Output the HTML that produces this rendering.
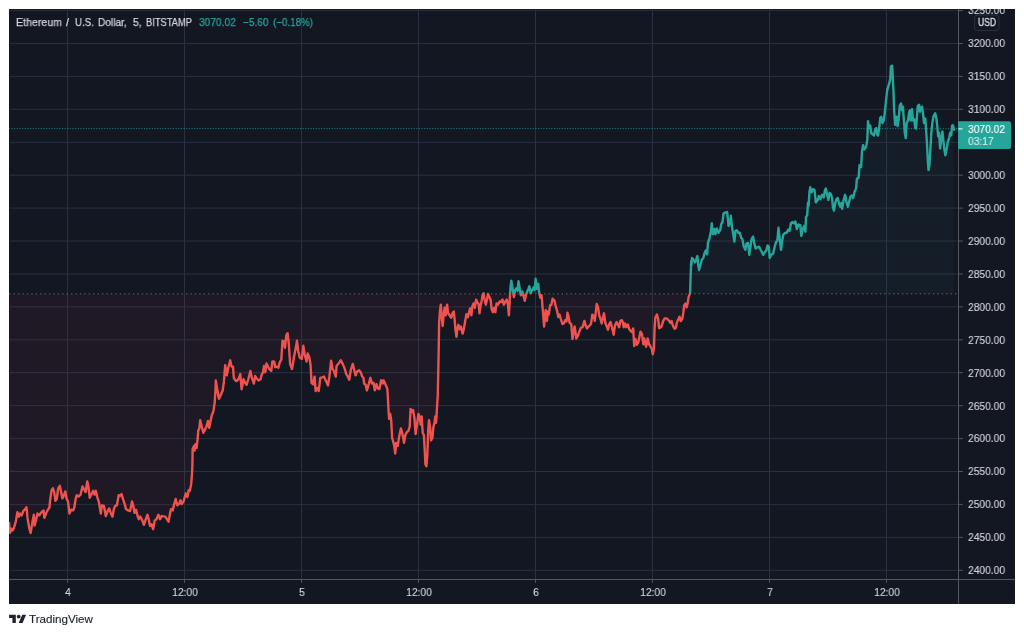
<!DOCTYPE html><html><head><meta charset="utf-8"><title>chart</title><style>
html,body{margin:0;padding:0;background:#fff}
body{width:1024px;height:635px;position:relative;overflow:hidden;font-family:"Liberation Sans",sans-serif}
.t{position:absolute;white-space:nowrap;line-height:1;color:#d1d4dc;font-size:11.5px;will-change:transform;-webkit-text-stroke:0.15px currentColor}
.pl{left:967.8px;transform-origin:0 50%;transform:scaleX(0.89)}
.tl{transform:translateX(-50%) scaleX(0.89)}

</style></head><body>
<svg width="1024" height="635" viewBox="0 0 1024 635" style="position:absolute;left:0;top:0">
<defs><clipPath id="up"><rect x="9" y="9" width="949.5" height="285.0"/></clipPath><clipPath id="dn"><rect x="9" y="294.0" width="949.5" height="285.5"/></clipPath></defs>
<rect x="9" y="9" width="1006" height="595" fill="#131722"/>
<path d="M67.5 9 V579.5 M184.5 9 V579.5 M301.5 9 V579.5 M418.5 9 V579.5 M535.5 9 V579.5 M652.5 9 V579.5 M769.5 9 V579.5 M886.5 9 V579.5 M9 10.6 H958.5 M9 43.5 H958.5 M9 76.4 H958.5 M9 109.3 H958.5 M9 142.3 H958.5 M9 175.2 H958.5 M9 208.1 H958.5 M9 241.0 H958.5 M9 274.0 H958.5 M9 306.9 H958.5 M9 339.8 H958.5 M9 372.7 H958.5 M9 405.7 H958.5 M9 438.6 H958.5 M9 471.5 H958.5 M9 504.4 H958.5 M9 537.4 H958.5 M9 570.3 H958.5" stroke="#2b3041" stroke-width="1" fill="none"/>
<path d="M9.1 523.0 L10.1 533.0 L11.3 528.6 L12.6 530.5 L13.9 528.0 L15.8 521.7 L17.4 512.2 L18.9 516.6 L20.2 513.5 L21.7 515.4 L23.3 511.0 L25.2 509.1 L26.5 507.2 L27.5 517.9 L29.2 528.0 L30.6 533.0 L32.1 524.2 L33.8 514.8 L34.6 525.5 L35.9 520.4 L37.5 513.5 L39.3 515.4 L40.9 512.9 L43.5 510.4 L44.4 517.9 L46.0 513.5 L47.9 509.7 L49.4 507.8 L50.1 500.3 L51.6 490.2 L52.9 488.3 L54.2 492.1 L55.4 500.9 L56.7 499.0 L58.2 488.3 L59.8 485.8 L61.1 492.1 L62.4 498.4 L64.0 495.2 L65.3 491.5 L66.5 498.4 L68.0 501.5 L69.5 513.5 L71.2 509.7 L73.1 510.4 L74.3 507.8 L75.6 499.0 L76.8 495.2 L78.7 496.5 L80.6 494.6 L82.5 486.4 L84.2 489.6 L85.7 492.1 L87.2 481.4 L88.2 485.2 L89.7 497.8 L91.3 494.6 L93.2 490.8 L94.5 494.6 L95.8 490.8 L97.3 497.1 L98.9 502.2 L100.8 513.5 L102.0 505.3 L103.9 505.9 L105.8 516.0 L107.7 511.0 L109.3 508.5 L110.9 513.5 L112.5 516.6 L114.0 508.5 L115.3 505.9 L116.9 505.3 L118.7 495.2 L120.3 495.9 L121.6 494.0 L123.2 499.6 L124.7 504.1 L126.0 509.1 L128.0 510.4 L130.1 511.0 L132.0 501.5 L133.2 505.3 L134.5 512.9 L136.1 509.7 L137.6 516.0 L138.7 519.2 L140.2 516.6 L142.1 519.8 L143.9 524.8 L145.8 519.2 L147.5 514.8 L148.7 519.2 L150.0 526.1 L151.5 524.2 L153.1 529.2 L154.7 520.4 L156.5 519.2 L158.4 514.8 L160.1 519.2 L161.6 516.0 L163.5 516.4 L165.3 516.6 L166.9 519.2 L168.5 521.7 L169.8 514.8 L171.0 509.1 L172.7 510.4 L174.2 504.1 L175.7 499.0 L177.3 505.3 L179.0 504.1 L180.5 500.3 L181.7 504.1 L183.6 501.5 L184.9 496.5 L185.8 493.4 L187.4 497.1 L188.7 490.2 L189.9 490.8 L191.2 483.9 L192.1 472.6 L192.4 465.0 L192.6 449.2 L193.9 446.1 L194.5 450.5 L195.4 444.2 L196.6 447.9 L197.6 439.1 L198.3 430.3 L199.2 429.1 L200.2 420.2 L201.4 425.3 L203.3 432.8 L205.2 429.1 L206.5 426.5 L208.0 420.9 L209.2 427.8 L210.5 421.5 L211.8 415.2 L213.4 411.4 L214.7 402.6 L215.5 390.0 L215.8 380.4 L217.0 388.0 L218.9 398.7 L220.8 394.9 L222.7 390.5 L223.9 381.7 L225.2 365.3 L226.7 375.4 L228.3 367.8 L230.2 360.3 L231.5 366.6 L233.0 366.6 L233.8 377.9 L235.3 380.4 L236.8 381.1 L238.4 379.2 L240.3 374.1 L241.6 389.2 L243.5 379.2 L245.1 382.9 L246.6 384.8 L248.5 378.5 L250.4 371.0 L251.9 377.9 L253.9 383.6 L255.2 376.0 L256.7 378.5 L258.6 380.4 L260.5 379.2 L261.7 374.8 L263.0 372.2 L264.0 365.9 L265.3 372.2 L266.5 363.4 L268.0 366.6 L269.3 369.1 L271.2 371.0 L272.4 361.5 L274.1 361.5 L275.3 367.2 L277.1 366.6 L278.4 367.8 L279.6 362.8 L281.3 359.6 L282.5 340.8 L283.8 341.4 L285.0 347.7 L286.3 335.1 L287.6 333.2 L288.8 343.9 L290.1 364.1 L292.0 369.1 L293.9 357.8 L295.8 347.7 L297.0 340.8 L298.3 351.5 L299.8 357.8 L301.8 359.0 L303.3 345.8 L304.6 354.0 L306.5 361.5 L307.7 353.4 L309.4 357.8 L310.6 365.3 L311.5 382.9 L313.1 384.2 L314.6 376.6 L315.6 391.1 L317.2 388.0 L318.7 391.1 L320.3 377.9 L322.2 377.3 L324.1 376.6 L326.0 381.1 L328.0 385.5 L329.4 376.5 L331.1 360.8 L332.6 369.0 L334.1 371.5 L335.8 376.5 L336.6 365.8 L338.9 363.3 L340.8 360.2 L342.7 363.9 L344.6 368.4 L346.2 374.0 L347.7 376.5 L349.2 379.7 L350.9 369.6 L352.8 363.9 L354.3 370.2 L355.5 375.3 L357.2 371.5 L359.1 370.2 L360.9 372.8 L362.2 376.5 L363.5 377.8 L364.1 383.5 L365.6 384.7 L366.9 390.4 L368.9 383.5 L370.4 377.8 L371.9 383.5 L373.5 382.8 L374.8 390.4 L376.4 384.1 L377.9 388.5 L379.5 389.1 L381.1 380.3 L382.7 383.5 L383.6 380.3 L385.3 384.1 L387.4 389.1 L388.0 400.5 L388.7 413.1 L389.1 418.9 L390.2 413.9 L391.2 420.2 L392.1 437.8 L393.3 441.6 L394.2 445.4 L395.2 453.6 L396.2 442.9 L397.7 446.0 L399.2 436.6 L400.9 428.4 L402.5 434.1 L404.0 442.9 L405.3 435.3 L406.8 432.2 L408.4 430.9 L409.7 426.5 L410.6 408.9 L411.8 412.0 L413.1 410.1 L414.4 417.7 L415.6 434.1 L416.9 425.2 L418.5 413.9 L419.8 417.7 L420.6 424.6 L421.6 416.4 L422.7 432.8 L423.9 435.3 L424.8 451.7 L425.4 464.3 L426.4 466.2 L427.3 455.5 L428.2 430.3 L429.0 420.2 L430.2 427.8 L431.1 440.4 L432.4 437.8 L433.4 427.1 L434.5 422.7 L435.3 416.4 L436.1 422.7 L437.0 407.6 L437.8 395.0 L438.6 355.0 L438.9 338.0 L439.1 322.9 L439.9 311.5 L440.8 304.6 L441.7 316.6 L442.7 326.0 L443.7 314.1 L444.6 307.8 L445.8 315.3 L447.1 304.6 L448.0 312.8 L449.6 315.3 L451.2 317.8 L452.5 313.4 L453.8 311.5 L454.6 319.1 L455.5 330.4 L456.5 336.7 L457.5 327.9 L458.4 324.8 L459.7 329.2 L460.9 326.6 L462.6 333.6 L463.8 329.2 L465.1 321.6 L466.4 314.1 L467.9 317.2 L468.9 312.8 L470.1 308.4 L471.4 315.3 L472.3 306.5 L473.5 303.4 L474.8 307.8 L476.1 299.6 L477.3 302.1 L478.6 304.0 L479.5 313.4 L480.7 305.2 L481.7 300.8 L482.7 294.5 L483.6 293.3 L484.5 298.9 L485.8 304.6 L487.0 299.6 L488.0 293.9 L489.3 297.1 L490.6 299.6 L491.6 309.0 L492.8 312.2 L494.1 307.8 L495.3 312.2 L496.6 303.4 L498.1 304.6 L499.6 301.5 L501.3 302.1 L502.5 299.6 L503.8 304.6 L505.4 301.5 L506.7 299.6 L507.9 304.0 L508.9 315.3 L509.7 300.2 L510.5 287.6 L511.3 280.7 L512.6 288.9 L513.9 297.1 L515.1 290.1 L516.4 288.2 L517.6 290.8 L518.5 281.3 L519.8 288.9 L520.8 295.2 L522.3 291.4 L523.6 295.8 L524.8 300.8 L525.8 295.2 L527.1 292.0 L528.4 288.9 L529.4 286.3 L530.6 293.3 L532.1 290.1 L533.4 287.6 L534.6 290.1 L535.6 278.8 L536.9 288.9 L538.2 283.8 L539.1 292.6 L540.3 297.7 L541.6 295.2 L542.5 306.5 L543.5 319.1 L544.1 326.6 L544.8 319.0 L545.7 310.2 L546.9 320.9 L547.8 311.4 L548.8 314.6 L550.1 305.1 L551.3 305.1 L552.6 298.8 L554.5 300.7 L555.8 306.4 L557.0 310.8 L558.3 317.1 L559.5 314.6 L560.8 319.0 L562.4 324.0 L563.9 323.4 L565.2 320.2 L566.5 321.5 L567.5 312.7 L568.7 317.1 L569.6 322.8 L571.2 324.0 L572.5 339.1 L573.4 332.8 L574.6 326.5 L576.3 338.5 L577.8 336.0 L579.3 331.6 L580.9 327.8 L582.6 327.2 L584.4 320.9 L585.6 325.3 L586.9 328.4 L588.5 326.5 L589.8 325.3 L591.0 324.0 L592.3 314.6 L593.5 315.8 L594.8 320.9 L595.7 312.7 L596.7 303.9 L598.0 307.0 L599.2 315.2 L600.5 319.0 L601.7 323.4 L603.0 317.1 L604.0 313.3 L605.3 322.8 L606.5 325.9 L608.0 329.7 L609.3 324.0 L610.5 322.1 L612.1 327.8 L613.7 334.7 L615.0 325.3 L616.6 322.1 L617.9 324.6 L619.1 327.2 L620.4 320.9 L621.9 320.2 L622.9 322.8 L623.8 327.2 L625.0 323.4 L626.3 327.2 L627.9 324.6 L629.2 329.1 L630.7 330.9 L632.0 332.2 L633.2 328.4 L634.2 346.1 L635.5 339.1 L636.8 344.8 L638.3 342.3 L639.5 336.6 L640.5 331.6 L642.0 334.1 L643.3 344.2 L644.3 338.5 L646.1 346.7 L647.7 338.5 L649.0 344.2 L650.6 346.7 L651.9 349.2 L652.8 354.2 L654.0 347.9 L654.6 327.8 L655.3 317.7 L656.9 314.6 L658.2 319.0 L659.1 328.4 L660.7 327.2 L662.0 325.3 L663.2 320.9 L664.7 318.4 L666.6 318.4 L668.0 319.6 L668.8 320.5 L670.3 323.0 L671.6 321.1 L672.9 325.6 L674.5 328.7 L675.8 328.1 L676.6 323.7 L678.3 319.2 L679.5 316.7 L680.8 321.1 L682.4 318.6 L683.3 312.9 L684.2 305.4 L685.5 303.5 L686.7 307.3 L687.7 302.9 L688.7 296.6 L690.0 293.4 L690.5 280.2 L691.2 261.3 L691.3 265.6 L692.0 258.0 L693.2 259.2 L694.9 262.4 L696.1 259.9 L697.4 256.1 L698.3 265.6 L699.1 270.0 L700.4 265.6 L701.7 259.9 L703.3 258.0 L704.6 252.9 L705.8 250.4 L707.1 254.2 L708.0 242.9 L709.6 237.8 L710.9 231.5 L711.8 223.3 L713.0 234.1 L714.3 229.0 L715.5 234.1 L716.8 228.4 L718.4 232.8 L720.1 230.3 L721.3 224.0 L722.6 221.5 L723.5 213.3 L725.1 212.6 L727.2 212.0 L728.5 225.9 L729.8 223.3 L730.8 215.8 L731.9 226.5 L733.2 234.1 L734.4 241.6 L735.4 230.9 L736.9 230.3 L738.2 232.8 L739.8 232.8 L741.1 237.8 L742.4 239.1 L743.6 246.0 L745.3 249.8 L746.5 243.5 L748.0 242.9 L749.3 254.8 L750.5 246.7 L751.6 239.1 L753.1 236.6 L754.3 242.9 L755.6 248.5 L757.5 247.3 L759.1 246.7 L760.6 249.8 L761.9 252.3 L763.1 254.8 L764.7 252.3 L766.3 250.4 L767.6 245.4 L768.8 246.7 L769.7 258.0 L771.3 254.8 L773.2 253.6 L774.7 246.7 L776.0 242.2 L777.3 241.0 L778.5 227.8 L779.8 239.1 L781.0 249.8 L782.3 240.3 L783.3 234.7 L785.2 232.8 L786.8 232.8 L788.1 229.7 L789.6 230.9 L790.9 223.3 L792.4 222.1 L794.0 223.3 L795.3 221.5 L796.9 229.0 L798.4 224.6 L800.3 225.2 L801.3 235.9 L802.8 229.0 L804.1 225.9 L805.4 231.5 L806.0 217.1 L807.2 215.2 L808.0 202.6 L808.6 205.6 L809.5 191.7 L810.3 187.3 L811.6 192.3 L812.9 189.2 L814.5 189.8 L815.8 202.4 L817.4 200.5 L818.9 196.1 L820.4 199.2 L822.0 194.8 L823.7 197.4 L824.9 190.4 L825.8 188.5 L827.1 194.2 L828.4 199.9 L829.6 192.9 L830.9 194.2 L832.1 198.0 L833.0 208.1 L834.0 210.6 L835.3 203.0 L836.5 199.2 L837.8 198.0 L839.1 203.7 L840.3 206.8 L841.3 203.0 L842.2 208.7 L843.5 200.5 L845.1 194.8 L846.4 201.8 L847.9 206.8 L849.1 201.8 L850.4 196.7 L851.6 195.5 L853.2 198.0 L854.4 192.3 L856.1 188.5 L856.9 178.5 L858.6 177.8 L859.5 165.2 L861.1 167.1 L862.0 151.4 L863.0 145.1 L864.2 149.5 L866.1 147.0 L867.4 138.8 L868.0 121.1 L869.1 128.0 L870.2 125.5 L871.2 133.1 L872.7 134.3 L873.9 135.6 L874.9 130.6 L876.2 128.0 L877.1 134.3 L878.0 135.6 L879.2 128.0 L880.2 118.0 L881.2 116.7 L882.5 123.0 L883.8 120.5 L884.6 114.2 L885.9 101.6 L887.2 90.2 L889.1 83.9 L890.3 78.9 L890.9 66.3 L892.2 65.7 L892.8 77.6 L893.5 91.5 L894.1 109.1 L895.1 124.9 L896.4 116.7 L897.6 126.1 L898.5 120.5 L899.8 105.3 L901.0 103.5 L901.9 110.4 L902.9 106.6 L903.9 120.5 L904.8 133.1 L905.7 138.1 L906.7 123.0 L908.0 120.5 L909.0 112.9 L909.8 110.4 L910.7 120.5 L912.0 109.1 L913.0 120.5 L914.2 119.2 L915.3 128.0 L916.1 128.7 L917.0 115.4 L917.8 106.0 L919.0 104.7 L919.9 111.7 L920.8 107.9 L922.1 106.6 L923.1 114.2 L924.1 123.0 L925.3 118.6 L926.2 130.6 L926.2 131.5 L926.9 141.6 L927.8 160.5 L928.5 169.9 L929.4 165.5 L930.3 150.4 L931.3 132.8 L932.3 123.3 L933.5 116.4 L935.1 113.2 L936.3 117.6 L937.3 126.5 L938.2 136.5 L939.1 132.8 L940.1 148.5 L941.1 140.3 L942.4 131.5 L943.6 142.8 L944.5 150.4 L945.4 155.4 L946.6 149.1 L947.9 141.6 L949.2 137.8 L950.2 132.8 L951.2 135.3 L952.1 125.8 L952.9 125.2 L954.0 129.6 L954.0 294.0 L9.1 294.0 Z" fill="#26a69a" fill-opacity="0.05" clip-path="url(#up)"/>
<path d="M9.1 523.0 L10.1 533.0 L11.3 528.6 L12.6 530.5 L13.9 528.0 L15.8 521.7 L17.4 512.2 L18.9 516.6 L20.2 513.5 L21.7 515.4 L23.3 511.0 L25.2 509.1 L26.5 507.2 L27.5 517.9 L29.2 528.0 L30.6 533.0 L32.1 524.2 L33.8 514.8 L34.6 525.5 L35.9 520.4 L37.5 513.5 L39.3 515.4 L40.9 512.9 L43.5 510.4 L44.4 517.9 L46.0 513.5 L47.9 509.7 L49.4 507.8 L50.1 500.3 L51.6 490.2 L52.9 488.3 L54.2 492.1 L55.4 500.9 L56.7 499.0 L58.2 488.3 L59.8 485.8 L61.1 492.1 L62.4 498.4 L64.0 495.2 L65.3 491.5 L66.5 498.4 L68.0 501.5 L69.5 513.5 L71.2 509.7 L73.1 510.4 L74.3 507.8 L75.6 499.0 L76.8 495.2 L78.7 496.5 L80.6 494.6 L82.5 486.4 L84.2 489.6 L85.7 492.1 L87.2 481.4 L88.2 485.2 L89.7 497.8 L91.3 494.6 L93.2 490.8 L94.5 494.6 L95.8 490.8 L97.3 497.1 L98.9 502.2 L100.8 513.5 L102.0 505.3 L103.9 505.9 L105.8 516.0 L107.7 511.0 L109.3 508.5 L110.9 513.5 L112.5 516.6 L114.0 508.5 L115.3 505.9 L116.9 505.3 L118.7 495.2 L120.3 495.9 L121.6 494.0 L123.2 499.6 L124.7 504.1 L126.0 509.1 L128.0 510.4 L130.1 511.0 L132.0 501.5 L133.2 505.3 L134.5 512.9 L136.1 509.7 L137.6 516.0 L138.7 519.2 L140.2 516.6 L142.1 519.8 L143.9 524.8 L145.8 519.2 L147.5 514.8 L148.7 519.2 L150.0 526.1 L151.5 524.2 L153.1 529.2 L154.7 520.4 L156.5 519.2 L158.4 514.8 L160.1 519.2 L161.6 516.0 L163.5 516.4 L165.3 516.6 L166.9 519.2 L168.5 521.7 L169.8 514.8 L171.0 509.1 L172.7 510.4 L174.2 504.1 L175.7 499.0 L177.3 505.3 L179.0 504.1 L180.5 500.3 L181.7 504.1 L183.6 501.5 L184.9 496.5 L185.8 493.4 L187.4 497.1 L188.7 490.2 L189.9 490.8 L191.2 483.9 L192.1 472.6 L192.4 465.0 L192.6 449.2 L193.9 446.1 L194.5 450.5 L195.4 444.2 L196.6 447.9 L197.6 439.1 L198.3 430.3 L199.2 429.1 L200.2 420.2 L201.4 425.3 L203.3 432.8 L205.2 429.1 L206.5 426.5 L208.0 420.9 L209.2 427.8 L210.5 421.5 L211.8 415.2 L213.4 411.4 L214.7 402.6 L215.5 390.0 L215.8 380.4 L217.0 388.0 L218.9 398.7 L220.8 394.9 L222.7 390.5 L223.9 381.7 L225.2 365.3 L226.7 375.4 L228.3 367.8 L230.2 360.3 L231.5 366.6 L233.0 366.6 L233.8 377.9 L235.3 380.4 L236.8 381.1 L238.4 379.2 L240.3 374.1 L241.6 389.2 L243.5 379.2 L245.1 382.9 L246.6 384.8 L248.5 378.5 L250.4 371.0 L251.9 377.9 L253.9 383.6 L255.2 376.0 L256.7 378.5 L258.6 380.4 L260.5 379.2 L261.7 374.8 L263.0 372.2 L264.0 365.9 L265.3 372.2 L266.5 363.4 L268.0 366.6 L269.3 369.1 L271.2 371.0 L272.4 361.5 L274.1 361.5 L275.3 367.2 L277.1 366.6 L278.4 367.8 L279.6 362.8 L281.3 359.6 L282.5 340.8 L283.8 341.4 L285.0 347.7 L286.3 335.1 L287.6 333.2 L288.8 343.9 L290.1 364.1 L292.0 369.1 L293.9 357.8 L295.8 347.7 L297.0 340.8 L298.3 351.5 L299.8 357.8 L301.8 359.0 L303.3 345.8 L304.6 354.0 L306.5 361.5 L307.7 353.4 L309.4 357.8 L310.6 365.3 L311.5 382.9 L313.1 384.2 L314.6 376.6 L315.6 391.1 L317.2 388.0 L318.7 391.1 L320.3 377.9 L322.2 377.3 L324.1 376.6 L326.0 381.1 L328.0 385.5 L329.4 376.5 L331.1 360.8 L332.6 369.0 L334.1 371.5 L335.8 376.5 L336.6 365.8 L338.9 363.3 L340.8 360.2 L342.7 363.9 L344.6 368.4 L346.2 374.0 L347.7 376.5 L349.2 379.7 L350.9 369.6 L352.8 363.9 L354.3 370.2 L355.5 375.3 L357.2 371.5 L359.1 370.2 L360.9 372.8 L362.2 376.5 L363.5 377.8 L364.1 383.5 L365.6 384.7 L366.9 390.4 L368.9 383.5 L370.4 377.8 L371.9 383.5 L373.5 382.8 L374.8 390.4 L376.4 384.1 L377.9 388.5 L379.5 389.1 L381.1 380.3 L382.7 383.5 L383.6 380.3 L385.3 384.1 L387.4 389.1 L388.0 400.5 L388.7 413.1 L389.1 418.9 L390.2 413.9 L391.2 420.2 L392.1 437.8 L393.3 441.6 L394.2 445.4 L395.2 453.6 L396.2 442.9 L397.7 446.0 L399.2 436.6 L400.9 428.4 L402.5 434.1 L404.0 442.9 L405.3 435.3 L406.8 432.2 L408.4 430.9 L409.7 426.5 L410.6 408.9 L411.8 412.0 L413.1 410.1 L414.4 417.7 L415.6 434.1 L416.9 425.2 L418.5 413.9 L419.8 417.7 L420.6 424.6 L421.6 416.4 L422.7 432.8 L423.9 435.3 L424.8 451.7 L425.4 464.3 L426.4 466.2 L427.3 455.5 L428.2 430.3 L429.0 420.2 L430.2 427.8 L431.1 440.4 L432.4 437.8 L433.4 427.1 L434.5 422.7 L435.3 416.4 L436.1 422.7 L437.0 407.6 L437.8 395.0 L438.6 355.0 L438.9 338.0 L439.1 322.9 L439.9 311.5 L440.8 304.6 L441.7 316.6 L442.7 326.0 L443.7 314.1 L444.6 307.8 L445.8 315.3 L447.1 304.6 L448.0 312.8 L449.6 315.3 L451.2 317.8 L452.5 313.4 L453.8 311.5 L454.6 319.1 L455.5 330.4 L456.5 336.7 L457.5 327.9 L458.4 324.8 L459.7 329.2 L460.9 326.6 L462.6 333.6 L463.8 329.2 L465.1 321.6 L466.4 314.1 L467.9 317.2 L468.9 312.8 L470.1 308.4 L471.4 315.3 L472.3 306.5 L473.5 303.4 L474.8 307.8 L476.1 299.6 L477.3 302.1 L478.6 304.0 L479.5 313.4 L480.7 305.2 L481.7 300.8 L482.7 294.5 L483.6 293.3 L484.5 298.9 L485.8 304.6 L487.0 299.6 L488.0 293.9 L489.3 297.1 L490.6 299.6 L491.6 309.0 L492.8 312.2 L494.1 307.8 L495.3 312.2 L496.6 303.4 L498.1 304.6 L499.6 301.5 L501.3 302.1 L502.5 299.6 L503.8 304.6 L505.4 301.5 L506.7 299.6 L507.9 304.0 L508.9 315.3 L509.7 300.2 L510.5 287.6 L511.3 280.7 L512.6 288.9 L513.9 297.1 L515.1 290.1 L516.4 288.2 L517.6 290.8 L518.5 281.3 L519.8 288.9 L520.8 295.2 L522.3 291.4 L523.6 295.8 L524.8 300.8 L525.8 295.2 L527.1 292.0 L528.4 288.9 L529.4 286.3 L530.6 293.3 L532.1 290.1 L533.4 287.6 L534.6 290.1 L535.6 278.8 L536.9 288.9 L538.2 283.8 L539.1 292.6 L540.3 297.7 L541.6 295.2 L542.5 306.5 L543.5 319.1 L544.1 326.6 L544.8 319.0 L545.7 310.2 L546.9 320.9 L547.8 311.4 L548.8 314.6 L550.1 305.1 L551.3 305.1 L552.6 298.8 L554.5 300.7 L555.8 306.4 L557.0 310.8 L558.3 317.1 L559.5 314.6 L560.8 319.0 L562.4 324.0 L563.9 323.4 L565.2 320.2 L566.5 321.5 L567.5 312.7 L568.7 317.1 L569.6 322.8 L571.2 324.0 L572.5 339.1 L573.4 332.8 L574.6 326.5 L576.3 338.5 L577.8 336.0 L579.3 331.6 L580.9 327.8 L582.6 327.2 L584.4 320.9 L585.6 325.3 L586.9 328.4 L588.5 326.5 L589.8 325.3 L591.0 324.0 L592.3 314.6 L593.5 315.8 L594.8 320.9 L595.7 312.7 L596.7 303.9 L598.0 307.0 L599.2 315.2 L600.5 319.0 L601.7 323.4 L603.0 317.1 L604.0 313.3 L605.3 322.8 L606.5 325.9 L608.0 329.7 L609.3 324.0 L610.5 322.1 L612.1 327.8 L613.7 334.7 L615.0 325.3 L616.6 322.1 L617.9 324.6 L619.1 327.2 L620.4 320.9 L621.9 320.2 L622.9 322.8 L623.8 327.2 L625.0 323.4 L626.3 327.2 L627.9 324.6 L629.2 329.1 L630.7 330.9 L632.0 332.2 L633.2 328.4 L634.2 346.1 L635.5 339.1 L636.8 344.8 L638.3 342.3 L639.5 336.6 L640.5 331.6 L642.0 334.1 L643.3 344.2 L644.3 338.5 L646.1 346.7 L647.7 338.5 L649.0 344.2 L650.6 346.7 L651.9 349.2 L652.8 354.2 L654.0 347.9 L654.6 327.8 L655.3 317.7 L656.9 314.6 L658.2 319.0 L659.1 328.4 L660.7 327.2 L662.0 325.3 L663.2 320.9 L664.7 318.4 L666.6 318.4 L668.0 319.6 L668.8 320.5 L670.3 323.0 L671.6 321.1 L672.9 325.6 L674.5 328.7 L675.8 328.1 L676.6 323.7 L678.3 319.2 L679.5 316.7 L680.8 321.1 L682.4 318.6 L683.3 312.9 L684.2 305.4 L685.5 303.5 L686.7 307.3 L687.7 302.9 L688.7 296.6 L690.0 293.4 L690.5 280.2 L691.2 261.3 L691.3 265.6 L692.0 258.0 L693.2 259.2 L694.9 262.4 L696.1 259.9 L697.4 256.1 L698.3 265.6 L699.1 270.0 L700.4 265.6 L701.7 259.9 L703.3 258.0 L704.6 252.9 L705.8 250.4 L707.1 254.2 L708.0 242.9 L709.6 237.8 L710.9 231.5 L711.8 223.3 L713.0 234.1 L714.3 229.0 L715.5 234.1 L716.8 228.4 L718.4 232.8 L720.1 230.3 L721.3 224.0 L722.6 221.5 L723.5 213.3 L725.1 212.6 L727.2 212.0 L728.5 225.9 L729.8 223.3 L730.8 215.8 L731.9 226.5 L733.2 234.1 L734.4 241.6 L735.4 230.9 L736.9 230.3 L738.2 232.8 L739.8 232.8 L741.1 237.8 L742.4 239.1 L743.6 246.0 L745.3 249.8 L746.5 243.5 L748.0 242.9 L749.3 254.8 L750.5 246.7 L751.6 239.1 L753.1 236.6 L754.3 242.9 L755.6 248.5 L757.5 247.3 L759.1 246.7 L760.6 249.8 L761.9 252.3 L763.1 254.8 L764.7 252.3 L766.3 250.4 L767.6 245.4 L768.8 246.7 L769.7 258.0 L771.3 254.8 L773.2 253.6 L774.7 246.7 L776.0 242.2 L777.3 241.0 L778.5 227.8 L779.8 239.1 L781.0 249.8 L782.3 240.3 L783.3 234.7 L785.2 232.8 L786.8 232.8 L788.1 229.7 L789.6 230.9 L790.9 223.3 L792.4 222.1 L794.0 223.3 L795.3 221.5 L796.9 229.0 L798.4 224.6 L800.3 225.2 L801.3 235.9 L802.8 229.0 L804.1 225.9 L805.4 231.5 L806.0 217.1 L807.2 215.2 L808.0 202.6 L808.6 205.6 L809.5 191.7 L810.3 187.3 L811.6 192.3 L812.9 189.2 L814.5 189.8 L815.8 202.4 L817.4 200.5 L818.9 196.1 L820.4 199.2 L822.0 194.8 L823.7 197.4 L824.9 190.4 L825.8 188.5 L827.1 194.2 L828.4 199.9 L829.6 192.9 L830.9 194.2 L832.1 198.0 L833.0 208.1 L834.0 210.6 L835.3 203.0 L836.5 199.2 L837.8 198.0 L839.1 203.7 L840.3 206.8 L841.3 203.0 L842.2 208.7 L843.5 200.5 L845.1 194.8 L846.4 201.8 L847.9 206.8 L849.1 201.8 L850.4 196.7 L851.6 195.5 L853.2 198.0 L854.4 192.3 L856.1 188.5 L856.9 178.5 L858.6 177.8 L859.5 165.2 L861.1 167.1 L862.0 151.4 L863.0 145.1 L864.2 149.5 L866.1 147.0 L867.4 138.8 L868.0 121.1 L869.1 128.0 L870.2 125.5 L871.2 133.1 L872.7 134.3 L873.9 135.6 L874.9 130.6 L876.2 128.0 L877.1 134.3 L878.0 135.6 L879.2 128.0 L880.2 118.0 L881.2 116.7 L882.5 123.0 L883.8 120.5 L884.6 114.2 L885.9 101.6 L887.2 90.2 L889.1 83.9 L890.3 78.9 L890.9 66.3 L892.2 65.7 L892.8 77.6 L893.5 91.5 L894.1 109.1 L895.1 124.9 L896.4 116.7 L897.6 126.1 L898.5 120.5 L899.8 105.3 L901.0 103.5 L901.9 110.4 L902.9 106.6 L903.9 120.5 L904.8 133.1 L905.7 138.1 L906.7 123.0 L908.0 120.5 L909.0 112.9 L909.8 110.4 L910.7 120.5 L912.0 109.1 L913.0 120.5 L914.2 119.2 L915.3 128.0 L916.1 128.7 L917.0 115.4 L917.8 106.0 L919.0 104.7 L919.9 111.7 L920.8 107.9 L922.1 106.6 L923.1 114.2 L924.1 123.0 L925.3 118.6 L926.2 130.6 L926.2 131.5 L926.9 141.6 L927.8 160.5 L928.5 169.9 L929.4 165.5 L930.3 150.4 L931.3 132.8 L932.3 123.3 L933.5 116.4 L935.1 113.2 L936.3 117.6 L937.3 126.5 L938.2 136.5 L939.1 132.8 L940.1 148.5 L941.1 140.3 L942.4 131.5 L943.6 142.8 L944.5 150.4 L945.4 155.4 L946.6 149.1 L947.9 141.6 L949.2 137.8 L950.2 132.8 L951.2 135.3 L952.1 125.8 L952.9 125.2 L954.0 129.6 L954.0 294.0 L9.1 294.0 Z" fill="#ef5350" fill-opacity="0.05" clip-path="url(#dn)"/>
<path d="M9.2 293.8 H958.5" stroke="#666c7f" stroke-width="1" stroke-dasharray="1.3 3.12" fill="none"/>
<path d="M9 128.6 H958.5" stroke="#26a69a" stroke-opacity="0.72" stroke-width="1" stroke-dasharray="1.1 1.545" fill="none"/>
<path d="M9.1 523.0 L10.1 533.0 L11.3 528.6 L12.6 530.5 L13.9 528.0 L15.8 521.7 L17.4 512.2 L18.9 516.6 L20.2 513.5 L21.7 515.4 L23.3 511.0 L25.2 509.1 L26.5 507.2 L27.5 517.9 L29.2 528.0 L30.6 533.0 L32.1 524.2 L33.8 514.8 L34.6 525.5 L35.9 520.4 L37.5 513.5 L39.3 515.4 L40.9 512.9 L43.5 510.4 L44.4 517.9 L46.0 513.5 L47.9 509.7 L49.4 507.8 L50.1 500.3 L51.6 490.2 L52.9 488.3 L54.2 492.1 L55.4 500.9 L56.7 499.0 L58.2 488.3 L59.8 485.8 L61.1 492.1 L62.4 498.4 L64.0 495.2 L65.3 491.5 L66.5 498.4 L68.0 501.5 L69.5 513.5 L71.2 509.7 L73.1 510.4 L74.3 507.8 L75.6 499.0 L76.8 495.2 L78.7 496.5 L80.6 494.6 L82.5 486.4 L84.2 489.6 L85.7 492.1 L87.2 481.4 L88.2 485.2 L89.7 497.8 L91.3 494.6 L93.2 490.8 L94.5 494.6 L95.8 490.8 L97.3 497.1 L98.9 502.2 L100.8 513.5 L102.0 505.3 L103.9 505.9 L105.8 516.0 L107.7 511.0 L109.3 508.5 L110.9 513.5 L112.5 516.6 L114.0 508.5 L115.3 505.9 L116.9 505.3 L118.7 495.2 L120.3 495.9 L121.6 494.0 L123.2 499.6 L124.7 504.1 L126.0 509.1 L128.0 510.4 L130.1 511.0 L132.0 501.5 L133.2 505.3 L134.5 512.9 L136.1 509.7 L137.6 516.0 L138.7 519.2 L140.2 516.6 L142.1 519.8 L143.9 524.8 L145.8 519.2 L147.5 514.8 L148.7 519.2 L150.0 526.1 L151.5 524.2 L153.1 529.2 L154.7 520.4 L156.5 519.2 L158.4 514.8 L160.1 519.2 L161.6 516.0 L163.5 516.4 L165.3 516.6 L166.9 519.2 L168.5 521.7 L169.8 514.8 L171.0 509.1 L172.7 510.4 L174.2 504.1 L175.7 499.0 L177.3 505.3 L179.0 504.1 L180.5 500.3 L181.7 504.1 L183.6 501.5 L184.9 496.5 L185.8 493.4 L187.4 497.1 L188.7 490.2 L189.9 490.8 L191.2 483.9 L192.1 472.6 L192.4 465.0 L192.6 449.2 L193.9 446.1 L194.5 450.5 L195.4 444.2 L196.6 447.9 L197.6 439.1 L198.3 430.3 L199.2 429.1 L200.2 420.2 L201.4 425.3 L203.3 432.8 L205.2 429.1 L206.5 426.5 L208.0 420.9 L209.2 427.8 L210.5 421.5 L211.8 415.2 L213.4 411.4 L214.7 402.6 L215.5 390.0 L215.8 380.4 L217.0 388.0 L218.9 398.7 L220.8 394.9 L222.7 390.5 L223.9 381.7 L225.2 365.3 L226.7 375.4 L228.3 367.8 L230.2 360.3 L231.5 366.6 L233.0 366.6 L233.8 377.9 L235.3 380.4 L236.8 381.1 L238.4 379.2 L240.3 374.1 L241.6 389.2 L243.5 379.2 L245.1 382.9 L246.6 384.8 L248.5 378.5 L250.4 371.0 L251.9 377.9 L253.9 383.6 L255.2 376.0 L256.7 378.5 L258.6 380.4 L260.5 379.2 L261.7 374.8 L263.0 372.2 L264.0 365.9 L265.3 372.2 L266.5 363.4 L268.0 366.6 L269.3 369.1 L271.2 371.0 L272.4 361.5 L274.1 361.5 L275.3 367.2 L277.1 366.6 L278.4 367.8 L279.6 362.8 L281.3 359.6 L282.5 340.8 L283.8 341.4 L285.0 347.7 L286.3 335.1 L287.6 333.2 L288.8 343.9 L290.1 364.1 L292.0 369.1 L293.9 357.8 L295.8 347.7 L297.0 340.8 L298.3 351.5 L299.8 357.8 L301.8 359.0 L303.3 345.8 L304.6 354.0 L306.5 361.5 L307.7 353.4 L309.4 357.8 L310.6 365.3 L311.5 382.9 L313.1 384.2 L314.6 376.6 L315.6 391.1 L317.2 388.0 L318.7 391.1 L320.3 377.9 L322.2 377.3 L324.1 376.6 L326.0 381.1 L328.0 385.5 L329.4 376.5 L331.1 360.8 L332.6 369.0 L334.1 371.5 L335.8 376.5 L336.6 365.8 L338.9 363.3 L340.8 360.2 L342.7 363.9 L344.6 368.4 L346.2 374.0 L347.7 376.5 L349.2 379.7 L350.9 369.6 L352.8 363.9 L354.3 370.2 L355.5 375.3 L357.2 371.5 L359.1 370.2 L360.9 372.8 L362.2 376.5 L363.5 377.8 L364.1 383.5 L365.6 384.7 L366.9 390.4 L368.9 383.5 L370.4 377.8 L371.9 383.5 L373.5 382.8 L374.8 390.4 L376.4 384.1 L377.9 388.5 L379.5 389.1 L381.1 380.3 L382.7 383.5 L383.6 380.3 L385.3 384.1 L387.4 389.1 L388.0 400.5 L388.7 413.1 L389.1 418.9 L390.2 413.9 L391.2 420.2 L392.1 437.8 L393.3 441.6 L394.2 445.4 L395.2 453.6 L396.2 442.9 L397.7 446.0 L399.2 436.6 L400.9 428.4 L402.5 434.1 L404.0 442.9 L405.3 435.3 L406.8 432.2 L408.4 430.9 L409.7 426.5 L410.6 408.9 L411.8 412.0 L413.1 410.1 L414.4 417.7 L415.6 434.1 L416.9 425.2 L418.5 413.9 L419.8 417.7 L420.6 424.6 L421.6 416.4 L422.7 432.8 L423.9 435.3 L424.8 451.7 L425.4 464.3 L426.4 466.2 L427.3 455.5 L428.2 430.3 L429.0 420.2 L430.2 427.8 L431.1 440.4 L432.4 437.8 L433.4 427.1 L434.5 422.7 L435.3 416.4 L436.1 422.7 L437.0 407.6 L437.8 395.0 L438.6 355.0 L438.9 338.0 L439.1 322.9 L439.9 311.5 L440.8 304.6 L441.7 316.6 L442.7 326.0 L443.7 314.1 L444.6 307.8 L445.8 315.3 L447.1 304.6 L448.0 312.8 L449.6 315.3 L451.2 317.8 L452.5 313.4 L453.8 311.5 L454.6 319.1 L455.5 330.4 L456.5 336.7 L457.5 327.9 L458.4 324.8 L459.7 329.2 L460.9 326.6 L462.6 333.6 L463.8 329.2 L465.1 321.6 L466.4 314.1 L467.9 317.2 L468.9 312.8 L470.1 308.4 L471.4 315.3 L472.3 306.5 L473.5 303.4 L474.8 307.8 L476.1 299.6 L477.3 302.1 L478.6 304.0 L479.5 313.4 L480.7 305.2 L481.7 300.8 L482.7 294.5 L483.6 293.3 L484.5 298.9 L485.8 304.6 L487.0 299.6 L488.0 293.9 L489.3 297.1 L490.6 299.6 L491.6 309.0 L492.8 312.2 L494.1 307.8 L495.3 312.2 L496.6 303.4 L498.1 304.6 L499.6 301.5 L501.3 302.1 L502.5 299.6 L503.8 304.6 L505.4 301.5 L506.7 299.6 L507.9 304.0 L508.9 315.3 L509.7 300.2 L510.5 287.6 L511.3 280.7 L512.6 288.9 L513.9 297.1 L515.1 290.1 L516.4 288.2 L517.6 290.8 L518.5 281.3 L519.8 288.9 L520.8 295.2 L522.3 291.4 L523.6 295.8 L524.8 300.8 L525.8 295.2 L527.1 292.0 L528.4 288.9 L529.4 286.3 L530.6 293.3 L532.1 290.1 L533.4 287.6 L534.6 290.1 L535.6 278.8 L536.9 288.9 L538.2 283.8 L539.1 292.6 L540.3 297.7 L541.6 295.2 L542.5 306.5 L543.5 319.1 L544.1 326.6 L544.8 319.0 L545.7 310.2 L546.9 320.9 L547.8 311.4 L548.8 314.6 L550.1 305.1 L551.3 305.1 L552.6 298.8 L554.5 300.7 L555.8 306.4 L557.0 310.8 L558.3 317.1 L559.5 314.6 L560.8 319.0 L562.4 324.0 L563.9 323.4 L565.2 320.2 L566.5 321.5 L567.5 312.7 L568.7 317.1 L569.6 322.8 L571.2 324.0 L572.5 339.1 L573.4 332.8 L574.6 326.5 L576.3 338.5 L577.8 336.0 L579.3 331.6 L580.9 327.8 L582.6 327.2 L584.4 320.9 L585.6 325.3 L586.9 328.4 L588.5 326.5 L589.8 325.3 L591.0 324.0 L592.3 314.6 L593.5 315.8 L594.8 320.9 L595.7 312.7 L596.7 303.9 L598.0 307.0 L599.2 315.2 L600.5 319.0 L601.7 323.4 L603.0 317.1 L604.0 313.3 L605.3 322.8 L606.5 325.9 L608.0 329.7 L609.3 324.0 L610.5 322.1 L612.1 327.8 L613.7 334.7 L615.0 325.3 L616.6 322.1 L617.9 324.6 L619.1 327.2 L620.4 320.9 L621.9 320.2 L622.9 322.8 L623.8 327.2 L625.0 323.4 L626.3 327.2 L627.9 324.6 L629.2 329.1 L630.7 330.9 L632.0 332.2 L633.2 328.4 L634.2 346.1 L635.5 339.1 L636.8 344.8 L638.3 342.3 L639.5 336.6 L640.5 331.6 L642.0 334.1 L643.3 344.2 L644.3 338.5 L646.1 346.7 L647.7 338.5 L649.0 344.2 L650.6 346.7 L651.9 349.2 L652.8 354.2 L654.0 347.9 L654.6 327.8 L655.3 317.7 L656.9 314.6 L658.2 319.0 L659.1 328.4 L660.7 327.2 L662.0 325.3 L663.2 320.9 L664.7 318.4 L666.6 318.4 L668.0 319.6 L668.8 320.5 L670.3 323.0 L671.6 321.1 L672.9 325.6 L674.5 328.7 L675.8 328.1 L676.6 323.7 L678.3 319.2 L679.5 316.7 L680.8 321.1 L682.4 318.6 L683.3 312.9 L684.2 305.4 L685.5 303.5 L686.7 307.3 L687.7 302.9 L688.7 296.6 L690.0 293.4 L690.5 280.2 L691.2 261.3 L691.3 265.6 L692.0 258.0 L693.2 259.2 L694.9 262.4 L696.1 259.9 L697.4 256.1 L698.3 265.6 L699.1 270.0 L700.4 265.6 L701.7 259.9 L703.3 258.0 L704.6 252.9 L705.8 250.4 L707.1 254.2 L708.0 242.9 L709.6 237.8 L710.9 231.5 L711.8 223.3 L713.0 234.1 L714.3 229.0 L715.5 234.1 L716.8 228.4 L718.4 232.8 L720.1 230.3 L721.3 224.0 L722.6 221.5 L723.5 213.3 L725.1 212.6 L727.2 212.0 L728.5 225.9 L729.8 223.3 L730.8 215.8 L731.9 226.5 L733.2 234.1 L734.4 241.6 L735.4 230.9 L736.9 230.3 L738.2 232.8 L739.8 232.8 L741.1 237.8 L742.4 239.1 L743.6 246.0 L745.3 249.8 L746.5 243.5 L748.0 242.9 L749.3 254.8 L750.5 246.7 L751.6 239.1 L753.1 236.6 L754.3 242.9 L755.6 248.5 L757.5 247.3 L759.1 246.7 L760.6 249.8 L761.9 252.3 L763.1 254.8 L764.7 252.3 L766.3 250.4 L767.6 245.4 L768.8 246.7 L769.7 258.0 L771.3 254.8 L773.2 253.6 L774.7 246.7 L776.0 242.2 L777.3 241.0 L778.5 227.8 L779.8 239.1 L781.0 249.8 L782.3 240.3 L783.3 234.7 L785.2 232.8 L786.8 232.8 L788.1 229.7 L789.6 230.9 L790.9 223.3 L792.4 222.1 L794.0 223.3 L795.3 221.5 L796.9 229.0 L798.4 224.6 L800.3 225.2 L801.3 235.9 L802.8 229.0 L804.1 225.9 L805.4 231.5 L806.0 217.1 L807.2 215.2 L808.0 202.6 L808.6 205.6 L809.5 191.7 L810.3 187.3 L811.6 192.3 L812.9 189.2 L814.5 189.8 L815.8 202.4 L817.4 200.5 L818.9 196.1 L820.4 199.2 L822.0 194.8 L823.7 197.4 L824.9 190.4 L825.8 188.5 L827.1 194.2 L828.4 199.9 L829.6 192.9 L830.9 194.2 L832.1 198.0 L833.0 208.1 L834.0 210.6 L835.3 203.0 L836.5 199.2 L837.8 198.0 L839.1 203.7 L840.3 206.8 L841.3 203.0 L842.2 208.7 L843.5 200.5 L845.1 194.8 L846.4 201.8 L847.9 206.8 L849.1 201.8 L850.4 196.7 L851.6 195.5 L853.2 198.0 L854.4 192.3 L856.1 188.5 L856.9 178.5 L858.6 177.8 L859.5 165.2 L861.1 167.1 L862.0 151.4 L863.0 145.1 L864.2 149.5 L866.1 147.0 L867.4 138.8 L868.0 121.1 L869.1 128.0 L870.2 125.5 L871.2 133.1 L872.7 134.3 L873.9 135.6 L874.9 130.6 L876.2 128.0 L877.1 134.3 L878.0 135.6 L879.2 128.0 L880.2 118.0 L881.2 116.7 L882.5 123.0 L883.8 120.5 L884.6 114.2 L885.9 101.6 L887.2 90.2 L889.1 83.9 L890.3 78.9 L890.9 66.3 L892.2 65.7 L892.8 77.6 L893.5 91.5 L894.1 109.1 L895.1 124.9 L896.4 116.7 L897.6 126.1 L898.5 120.5 L899.8 105.3 L901.0 103.5 L901.9 110.4 L902.9 106.6 L903.9 120.5 L904.8 133.1 L905.7 138.1 L906.7 123.0 L908.0 120.5 L909.0 112.9 L909.8 110.4 L910.7 120.5 L912.0 109.1 L913.0 120.5 L914.2 119.2 L915.3 128.0 L916.1 128.7 L917.0 115.4 L917.8 106.0 L919.0 104.7 L919.9 111.7 L920.8 107.9 L922.1 106.6 L923.1 114.2 L924.1 123.0 L925.3 118.6 L926.2 130.6 L926.2 131.5 L926.9 141.6 L927.8 160.5 L928.5 169.9 L929.4 165.5 L930.3 150.4 L931.3 132.8 L932.3 123.3 L933.5 116.4 L935.1 113.2 L936.3 117.6 L937.3 126.5 L938.2 136.5 L939.1 132.8 L940.1 148.5 L941.1 140.3 L942.4 131.5 L943.6 142.8 L944.5 150.4 L945.4 155.4 L946.6 149.1 L947.9 141.6 L949.2 137.8 L950.2 132.8 L951.2 135.3 L952.1 125.8 L952.9 125.2 L954.0 129.6" stroke="#26a69a" stroke-width="2.4" fill="none" stroke-linejoin="round" stroke-linecap="round" clip-path="url(#up)"/>
<path d="M9.1 523.0 L10.1 533.0 L11.3 528.6 L12.6 530.5 L13.9 528.0 L15.8 521.7 L17.4 512.2 L18.9 516.6 L20.2 513.5 L21.7 515.4 L23.3 511.0 L25.2 509.1 L26.5 507.2 L27.5 517.9 L29.2 528.0 L30.6 533.0 L32.1 524.2 L33.8 514.8 L34.6 525.5 L35.9 520.4 L37.5 513.5 L39.3 515.4 L40.9 512.9 L43.5 510.4 L44.4 517.9 L46.0 513.5 L47.9 509.7 L49.4 507.8 L50.1 500.3 L51.6 490.2 L52.9 488.3 L54.2 492.1 L55.4 500.9 L56.7 499.0 L58.2 488.3 L59.8 485.8 L61.1 492.1 L62.4 498.4 L64.0 495.2 L65.3 491.5 L66.5 498.4 L68.0 501.5 L69.5 513.5 L71.2 509.7 L73.1 510.4 L74.3 507.8 L75.6 499.0 L76.8 495.2 L78.7 496.5 L80.6 494.6 L82.5 486.4 L84.2 489.6 L85.7 492.1 L87.2 481.4 L88.2 485.2 L89.7 497.8 L91.3 494.6 L93.2 490.8 L94.5 494.6 L95.8 490.8 L97.3 497.1 L98.9 502.2 L100.8 513.5 L102.0 505.3 L103.9 505.9 L105.8 516.0 L107.7 511.0 L109.3 508.5 L110.9 513.5 L112.5 516.6 L114.0 508.5 L115.3 505.9 L116.9 505.3 L118.7 495.2 L120.3 495.9 L121.6 494.0 L123.2 499.6 L124.7 504.1 L126.0 509.1 L128.0 510.4 L130.1 511.0 L132.0 501.5 L133.2 505.3 L134.5 512.9 L136.1 509.7 L137.6 516.0 L138.7 519.2 L140.2 516.6 L142.1 519.8 L143.9 524.8 L145.8 519.2 L147.5 514.8 L148.7 519.2 L150.0 526.1 L151.5 524.2 L153.1 529.2 L154.7 520.4 L156.5 519.2 L158.4 514.8 L160.1 519.2 L161.6 516.0 L163.5 516.4 L165.3 516.6 L166.9 519.2 L168.5 521.7 L169.8 514.8 L171.0 509.1 L172.7 510.4 L174.2 504.1 L175.7 499.0 L177.3 505.3 L179.0 504.1 L180.5 500.3 L181.7 504.1 L183.6 501.5 L184.9 496.5 L185.8 493.4 L187.4 497.1 L188.7 490.2 L189.9 490.8 L191.2 483.9 L192.1 472.6 L192.4 465.0 L192.6 449.2 L193.9 446.1 L194.5 450.5 L195.4 444.2 L196.6 447.9 L197.6 439.1 L198.3 430.3 L199.2 429.1 L200.2 420.2 L201.4 425.3 L203.3 432.8 L205.2 429.1 L206.5 426.5 L208.0 420.9 L209.2 427.8 L210.5 421.5 L211.8 415.2 L213.4 411.4 L214.7 402.6 L215.5 390.0 L215.8 380.4 L217.0 388.0 L218.9 398.7 L220.8 394.9 L222.7 390.5 L223.9 381.7 L225.2 365.3 L226.7 375.4 L228.3 367.8 L230.2 360.3 L231.5 366.6 L233.0 366.6 L233.8 377.9 L235.3 380.4 L236.8 381.1 L238.4 379.2 L240.3 374.1 L241.6 389.2 L243.5 379.2 L245.1 382.9 L246.6 384.8 L248.5 378.5 L250.4 371.0 L251.9 377.9 L253.9 383.6 L255.2 376.0 L256.7 378.5 L258.6 380.4 L260.5 379.2 L261.7 374.8 L263.0 372.2 L264.0 365.9 L265.3 372.2 L266.5 363.4 L268.0 366.6 L269.3 369.1 L271.2 371.0 L272.4 361.5 L274.1 361.5 L275.3 367.2 L277.1 366.6 L278.4 367.8 L279.6 362.8 L281.3 359.6 L282.5 340.8 L283.8 341.4 L285.0 347.7 L286.3 335.1 L287.6 333.2 L288.8 343.9 L290.1 364.1 L292.0 369.1 L293.9 357.8 L295.8 347.7 L297.0 340.8 L298.3 351.5 L299.8 357.8 L301.8 359.0 L303.3 345.8 L304.6 354.0 L306.5 361.5 L307.7 353.4 L309.4 357.8 L310.6 365.3 L311.5 382.9 L313.1 384.2 L314.6 376.6 L315.6 391.1 L317.2 388.0 L318.7 391.1 L320.3 377.9 L322.2 377.3 L324.1 376.6 L326.0 381.1 L328.0 385.5 L329.4 376.5 L331.1 360.8 L332.6 369.0 L334.1 371.5 L335.8 376.5 L336.6 365.8 L338.9 363.3 L340.8 360.2 L342.7 363.9 L344.6 368.4 L346.2 374.0 L347.7 376.5 L349.2 379.7 L350.9 369.6 L352.8 363.9 L354.3 370.2 L355.5 375.3 L357.2 371.5 L359.1 370.2 L360.9 372.8 L362.2 376.5 L363.5 377.8 L364.1 383.5 L365.6 384.7 L366.9 390.4 L368.9 383.5 L370.4 377.8 L371.9 383.5 L373.5 382.8 L374.8 390.4 L376.4 384.1 L377.9 388.5 L379.5 389.1 L381.1 380.3 L382.7 383.5 L383.6 380.3 L385.3 384.1 L387.4 389.1 L388.0 400.5 L388.7 413.1 L389.1 418.9 L390.2 413.9 L391.2 420.2 L392.1 437.8 L393.3 441.6 L394.2 445.4 L395.2 453.6 L396.2 442.9 L397.7 446.0 L399.2 436.6 L400.9 428.4 L402.5 434.1 L404.0 442.9 L405.3 435.3 L406.8 432.2 L408.4 430.9 L409.7 426.5 L410.6 408.9 L411.8 412.0 L413.1 410.1 L414.4 417.7 L415.6 434.1 L416.9 425.2 L418.5 413.9 L419.8 417.7 L420.6 424.6 L421.6 416.4 L422.7 432.8 L423.9 435.3 L424.8 451.7 L425.4 464.3 L426.4 466.2 L427.3 455.5 L428.2 430.3 L429.0 420.2 L430.2 427.8 L431.1 440.4 L432.4 437.8 L433.4 427.1 L434.5 422.7 L435.3 416.4 L436.1 422.7 L437.0 407.6 L437.8 395.0 L438.6 355.0 L438.9 338.0 L439.1 322.9 L439.9 311.5 L440.8 304.6 L441.7 316.6 L442.7 326.0 L443.7 314.1 L444.6 307.8 L445.8 315.3 L447.1 304.6 L448.0 312.8 L449.6 315.3 L451.2 317.8 L452.5 313.4 L453.8 311.5 L454.6 319.1 L455.5 330.4 L456.5 336.7 L457.5 327.9 L458.4 324.8 L459.7 329.2 L460.9 326.6 L462.6 333.6 L463.8 329.2 L465.1 321.6 L466.4 314.1 L467.9 317.2 L468.9 312.8 L470.1 308.4 L471.4 315.3 L472.3 306.5 L473.5 303.4 L474.8 307.8 L476.1 299.6 L477.3 302.1 L478.6 304.0 L479.5 313.4 L480.7 305.2 L481.7 300.8 L482.7 294.5 L483.6 293.3 L484.5 298.9 L485.8 304.6 L487.0 299.6 L488.0 293.9 L489.3 297.1 L490.6 299.6 L491.6 309.0 L492.8 312.2 L494.1 307.8 L495.3 312.2 L496.6 303.4 L498.1 304.6 L499.6 301.5 L501.3 302.1 L502.5 299.6 L503.8 304.6 L505.4 301.5 L506.7 299.6 L507.9 304.0 L508.9 315.3 L509.7 300.2 L510.5 287.6 L511.3 280.7 L512.6 288.9 L513.9 297.1 L515.1 290.1 L516.4 288.2 L517.6 290.8 L518.5 281.3 L519.8 288.9 L520.8 295.2 L522.3 291.4 L523.6 295.8 L524.8 300.8 L525.8 295.2 L527.1 292.0 L528.4 288.9 L529.4 286.3 L530.6 293.3 L532.1 290.1 L533.4 287.6 L534.6 290.1 L535.6 278.8 L536.9 288.9 L538.2 283.8 L539.1 292.6 L540.3 297.7 L541.6 295.2 L542.5 306.5 L543.5 319.1 L544.1 326.6 L544.8 319.0 L545.7 310.2 L546.9 320.9 L547.8 311.4 L548.8 314.6 L550.1 305.1 L551.3 305.1 L552.6 298.8 L554.5 300.7 L555.8 306.4 L557.0 310.8 L558.3 317.1 L559.5 314.6 L560.8 319.0 L562.4 324.0 L563.9 323.4 L565.2 320.2 L566.5 321.5 L567.5 312.7 L568.7 317.1 L569.6 322.8 L571.2 324.0 L572.5 339.1 L573.4 332.8 L574.6 326.5 L576.3 338.5 L577.8 336.0 L579.3 331.6 L580.9 327.8 L582.6 327.2 L584.4 320.9 L585.6 325.3 L586.9 328.4 L588.5 326.5 L589.8 325.3 L591.0 324.0 L592.3 314.6 L593.5 315.8 L594.8 320.9 L595.7 312.7 L596.7 303.9 L598.0 307.0 L599.2 315.2 L600.5 319.0 L601.7 323.4 L603.0 317.1 L604.0 313.3 L605.3 322.8 L606.5 325.9 L608.0 329.7 L609.3 324.0 L610.5 322.1 L612.1 327.8 L613.7 334.7 L615.0 325.3 L616.6 322.1 L617.9 324.6 L619.1 327.2 L620.4 320.9 L621.9 320.2 L622.9 322.8 L623.8 327.2 L625.0 323.4 L626.3 327.2 L627.9 324.6 L629.2 329.1 L630.7 330.9 L632.0 332.2 L633.2 328.4 L634.2 346.1 L635.5 339.1 L636.8 344.8 L638.3 342.3 L639.5 336.6 L640.5 331.6 L642.0 334.1 L643.3 344.2 L644.3 338.5 L646.1 346.7 L647.7 338.5 L649.0 344.2 L650.6 346.7 L651.9 349.2 L652.8 354.2 L654.0 347.9 L654.6 327.8 L655.3 317.7 L656.9 314.6 L658.2 319.0 L659.1 328.4 L660.7 327.2 L662.0 325.3 L663.2 320.9 L664.7 318.4 L666.6 318.4 L668.0 319.6 L668.8 320.5 L670.3 323.0 L671.6 321.1 L672.9 325.6 L674.5 328.7 L675.8 328.1 L676.6 323.7 L678.3 319.2 L679.5 316.7 L680.8 321.1 L682.4 318.6 L683.3 312.9 L684.2 305.4 L685.5 303.5 L686.7 307.3 L687.7 302.9 L688.7 296.6 L690.0 293.4 L690.5 280.2 L691.2 261.3 L691.3 265.6 L692.0 258.0 L693.2 259.2 L694.9 262.4 L696.1 259.9 L697.4 256.1 L698.3 265.6 L699.1 270.0 L700.4 265.6 L701.7 259.9 L703.3 258.0 L704.6 252.9 L705.8 250.4 L707.1 254.2 L708.0 242.9 L709.6 237.8 L710.9 231.5 L711.8 223.3 L713.0 234.1 L714.3 229.0 L715.5 234.1 L716.8 228.4 L718.4 232.8 L720.1 230.3 L721.3 224.0 L722.6 221.5 L723.5 213.3 L725.1 212.6 L727.2 212.0 L728.5 225.9 L729.8 223.3 L730.8 215.8 L731.9 226.5 L733.2 234.1 L734.4 241.6 L735.4 230.9 L736.9 230.3 L738.2 232.8 L739.8 232.8 L741.1 237.8 L742.4 239.1 L743.6 246.0 L745.3 249.8 L746.5 243.5 L748.0 242.9 L749.3 254.8 L750.5 246.7 L751.6 239.1 L753.1 236.6 L754.3 242.9 L755.6 248.5 L757.5 247.3 L759.1 246.7 L760.6 249.8 L761.9 252.3 L763.1 254.8 L764.7 252.3 L766.3 250.4 L767.6 245.4 L768.8 246.7 L769.7 258.0 L771.3 254.8 L773.2 253.6 L774.7 246.7 L776.0 242.2 L777.3 241.0 L778.5 227.8 L779.8 239.1 L781.0 249.8 L782.3 240.3 L783.3 234.7 L785.2 232.8 L786.8 232.8 L788.1 229.7 L789.6 230.9 L790.9 223.3 L792.4 222.1 L794.0 223.3 L795.3 221.5 L796.9 229.0 L798.4 224.6 L800.3 225.2 L801.3 235.9 L802.8 229.0 L804.1 225.9 L805.4 231.5 L806.0 217.1 L807.2 215.2 L808.0 202.6 L808.6 205.6 L809.5 191.7 L810.3 187.3 L811.6 192.3 L812.9 189.2 L814.5 189.8 L815.8 202.4 L817.4 200.5 L818.9 196.1 L820.4 199.2 L822.0 194.8 L823.7 197.4 L824.9 190.4 L825.8 188.5 L827.1 194.2 L828.4 199.9 L829.6 192.9 L830.9 194.2 L832.1 198.0 L833.0 208.1 L834.0 210.6 L835.3 203.0 L836.5 199.2 L837.8 198.0 L839.1 203.7 L840.3 206.8 L841.3 203.0 L842.2 208.7 L843.5 200.5 L845.1 194.8 L846.4 201.8 L847.9 206.8 L849.1 201.8 L850.4 196.7 L851.6 195.5 L853.2 198.0 L854.4 192.3 L856.1 188.5 L856.9 178.5 L858.6 177.8 L859.5 165.2 L861.1 167.1 L862.0 151.4 L863.0 145.1 L864.2 149.5 L866.1 147.0 L867.4 138.8 L868.0 121.1 L869.1 128.0 L870.2 125.5 L871.2 133.1 L872.7 134.3 L873.9 135.6 L874.9 130.6 L876.2 128.0 L877.1 134.3 L878.0 135.6 L879.2 128.0 L880.2 118.0 L881.2 116.7 L882.5 123.0 L883.8 120.5 L884.6 114.2 L885.9 101.6 L887.2 90.2 L889.1 83.9 L890.3 78.9 L890.9 66.3 L892.2 65.7 L892.8 77.6 L893.5 91.5 L894.1 109.1 L895.1 124.9 L896.4 116.7 L897.6 126.1 L898.5 120.5 L899.8 105.3 L901.0 103.5 L901.9 110.4 L902.9 106.6 L903.9 120.5 L904.8 133.1 L905.7 138.1 L906.7 123.0 L908.0 120.5 L909.0 112.9 L909.8 110.4 L910.7 120.5 L912.0 109.1 L913.0 120.5 L914.2 119.2 L915.3 128.0 L916.1 128.7 L917.0 115.4 L917.8 106.0 L919.0 104.7 L919.9 111.7 L920.8 107.9 L922.1 106.6 L923.1 114.2 L924.1 123.0 L925.3 118.6 L926.2 130.6 L926.2 131.5 L926.9 141.6 L927.8 160.5 L928.5 169.9 L929.4 165.5 L930.3 150.4 L931.3 132.8 L932.3 123.3 L933.5 116.4 L935.1 113.2 L936.3 117.6 L937.3 126.5 L938.2 136.5 L939.1 132.8 L940.1 148.5 L941.1 140.3 L942.4 131.5 L943.6 142.8 L944.5 150.4 L945.4 155.4 L946.6 149.1 L947.9 141.6 L949.2 137.8 L950.2 132.8 L951.2 135.3 L952.1 125.8 L952.9 125.2 L954.0 129.6" stroke="#ef5350" stroke-width="2.4" fill="none" stroke-linejoin="round" stroke-linecap="round" clip-path="url(#dn)"/>
<path d="M67.5 579.5 v3.3 M184.5 579.5 v3.3 M301.5 579.5 v3.3 M418.5 579.5 v3.3 M535.5 579.5 v3.3 M652.5 579.5 v3.3 M769.5 579.5 v3.3 M886.5 579.5 v3.3 M958.5 10.6 h4.4 M958.5 43.5 h4.4 M958.5 76.4 h4.4 M958.5 109.3 h4.4 M958.5 142.3 h4.4 M958.5 175.2 h4.4 M958.5 208.1 h4.4 M958.5 241.0 h4.4 M958.5 274.0 h4.4 M958.5 306.9 h4.4 M958.5 339.8 h4.4 M958.5 372.7 h4.4 M958.5 405.7 h4.4 M958.5 438.6 h4.4 M958.5 471.5 h4.4 M958.5 504.4 h4.4 M958.5 537.4 h4.4 M958.5 570.3 h4.4 M9 579.5 H1015 M958.5 9 V604" stroke="#56585f" stroke-width="1" fill="none"/>
<path d="M958.0 121.2 H1009 a2 2 0 0 1 2 2 V147 a2 2 0 0 1 -2 2 H958.0 Z" fill="#26a69a"/>
<path d="M958.5 128.9 h4" stroke="#fff" stroke-width="1"/>
<rect x="974.5" y="15" width="24.5" height="15.5" rx="3" fill="#131722" stroke="#2b3041" stroke-width="1"/>
<g transform="translate(9.1 613.0) scale(0.479 0.456)" fill="#1e222d"><path d="M14 22H7V11H0V4h14v18zM28 22h-8l7.5-18h8L28 22z"/><circle cx="20" cy="8" r="4"/></g>
</svg>
<div class="t pl" style="top:5.4px;clip-path:inset(3.6px 0 0 0)">3250.00</div>
<div class="t pl" style="top:38.3px">3200.00</div>
<div class="t pl" style="top:71.2px">3150.00</div>
<div class="t pl" style="top:104.1px">3100.00</div>
<div class="t pl" style="top:170.0px">3000.00</div>
<div class="t pl" style="top:202.9px">2950.00</div>
<div class="t pl" style="top:235.8px">2900.00</div>
<div class="t pl" style="top:268.8px">2850.00</div>
<div class="t pl" style="top:301.7px">2800.00</div>
<div class="t pl" style="top:334.6px">2750.00</div>
<div class="t pl" style="top:367.5px">2700.00</div>
<div class="t pl" style="top:400.5px">2650.00</div>
<div class="t pl" style="top:433.4px">2600.00</div>
<div class="t pl" style="top:466.3px">2550.00</div>
<div class="t pl" style="top:499.2px">2500.00</div>
<div class="t pl" style="top:532.2px">2450.00</div>
<div class="t pl" style="top:565.1px">2400.00</div>
<div class="t tl" style="left:67.5px;top:587.3px">4</div>
<div class="t tl" style="left:184.5px;top:587.3px">12:00</div>
<div class="t tl" style="left:301.5px;top:587.3px">5</div>
<div class="t tl" style="left:418.5px;top:587.3px">12:00</div>
<div class="t tl" style="left:535.5px;top:587.3px">6</div>
<div class="t tl" style="left:652.5px;top:587.3px">12:00</div>
<div class="t tl" style="left:769.5px;top:587.3px">7</div>
<div class="t tl" style="left:886.5px;top:587.3px">12:00</div>
<div class="t pl" style="top:123.7px;color:#fff">3070.02</div>
<div class="t pl" style="top:135.8px;color:rgba(255,255,255,0.75)">03:17</div>
<div class="t" style="left:977.8px;top:16.5px;font-size:10.5px;-webkit-text-stroke:0.45px currentColor;transform-origin:0 50%;transform:scaleX(0.82)">USD</div>
<div class="t" style="left:16.40px;top:16.8px;font-size:11px;color:#d1d4dc;-webkit-text-stroke:0.25px #d1d4dc;transform-origin:0 50%;transform:scaleX(0.964)">Ethereum</div>
<div class="t" style="left:66.10px;top:16.8px;font-size:11px;color:#d1d4dc;-webkit-text-stroke:0.25px #d1d4dc;transform-origin:0 50%;transform:scaleX(0.975)">/</div>
<div class="t" style="left:74.70px;top:16.8px;font-size:11px;color:#d1d4dc;-webkit-text-stroke:0.25px #d1d4dc;transform-origin:0 50%;transform:scaleX(0.881)">U.S.</div>
<div class="t" style="left:97.70px;top:16.8px;font-size:11px;color:#d1d4dc;-webkit-text-stroke:0.25px #d1d4dc;transform-origin:0 50%;transform:scaleX(0.919)">Dollar,</div>
<div class="t" style="left:132.50px;top:16.8px;font-size:11px;color:#d1d4dc;-webkit-text-stroke:0.25px #d1d4dc;transform-origin:0 50%;transform:scaleX(0.943)">5,</div>
<div class="t" style="left:145.80px;top:16.8px;font-size:11px;color:#d1d4dc;-webkit-text-stroke:0.25px #d1d4dc;transform-origin:0 50%;transform:scaleX(0.849)">BITSTAMP</div>
<div class="t" style="left:198.60px;top:16.8px;font-size:11px;color:#26a69a;-webkit-text-stroke:0.25px #26a69a;transform-origin:0 50%;transform:scaleX(0.926)">3070.02</div>
<div class="t" style="left:242.80px;top:16.8px;font-size:11px;color:#26a69a;-webkit-text-stroke:0.25px #26a69a;transform-origin:0 50%;transform:scaleX(0.913)">−5.60</div>
<div class="t" style="left:272.50px;top:16.8px;font-size:11px;color:#26a69a;-webkit-text-stroke:0.25px #26a69a;transform-origin:0 50%;transform:scaleX(0.89)">(−0.18%)</div>
<div class="t" id="tv" style="left:29.3px;top:614px;font-size:11.5px;color:#1e222d;transform-origin:0 50%;transform:scaleX(1.01)">TradingView</div>
<div style="position:absolute;left:0;top:0;width:1024px;height:8.9px;background:#fff"></div>
</body></html>
